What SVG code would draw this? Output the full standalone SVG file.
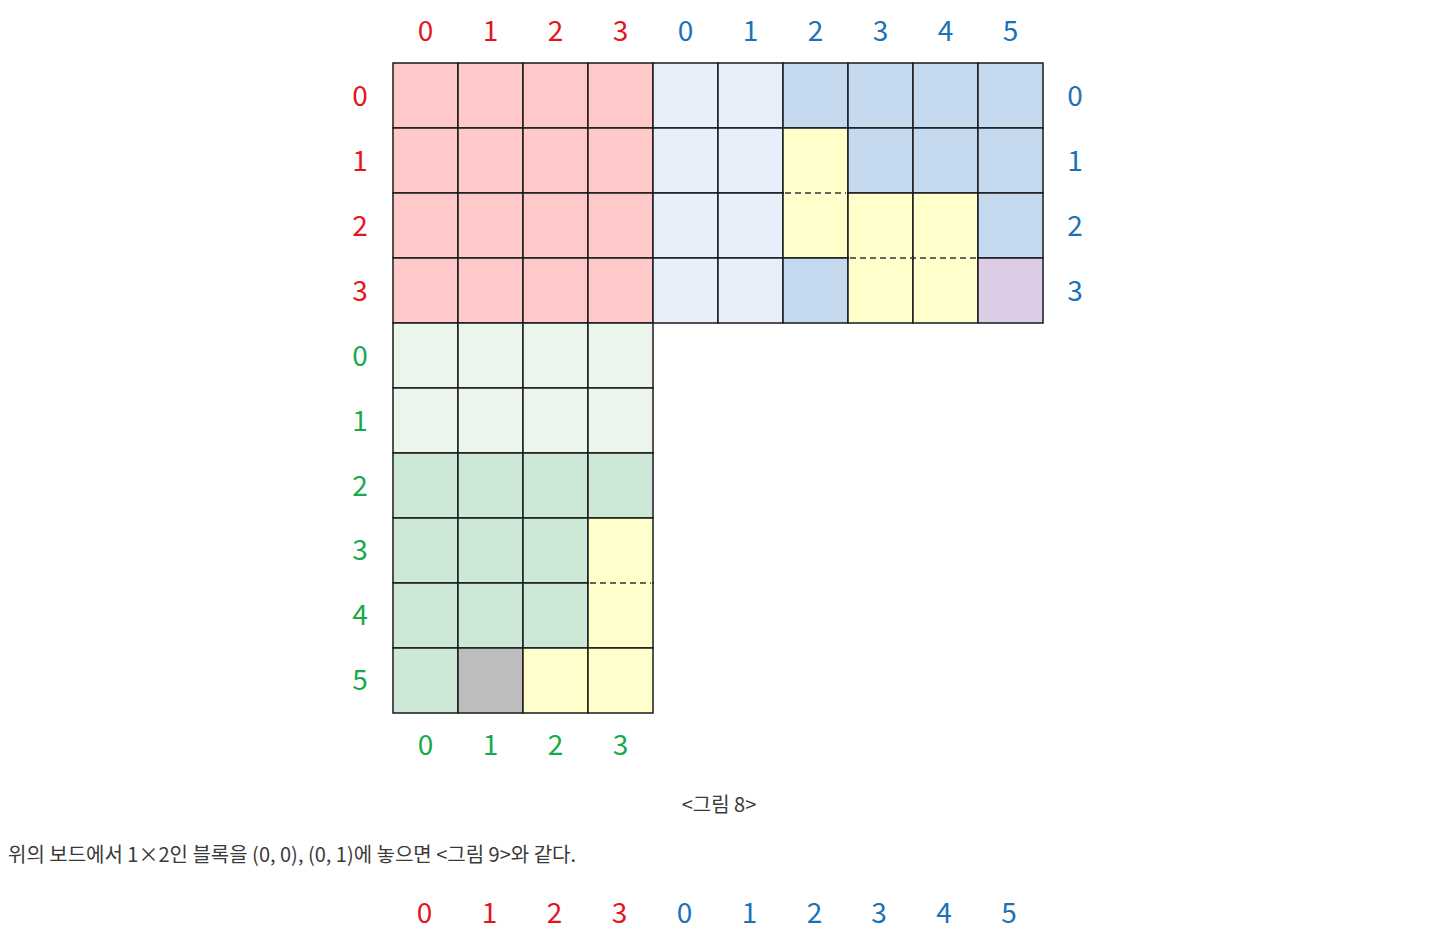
<svg xmlns="http://www.w3.org/2000/svg" width="1440" height="931" viewBox="0 0 1440 931">
<style>
.n{font-family:"Noto Sans CJK KR","Noto Sans",sans-serif;font-size:28px;text-anchor:middle}
.r{fill:#e3161c}.b{fill:#1b72b8}.g{fill:#17a94c}
.c{stroke:#1a1a1a;stroke-width:1.5}
.pk{fill:#ffc9c9}.lb{fill:#e7f0fa}.bl{fill:#c5daee}.ye{fill:#ffffcc}.pu{fill:#dccce6}.lg{fill:#ebf5ec}.gr{fill:#cde8d6}.gy{fill:#bdbdbd}
.d{stroke:#333;stroke-width:1.5;stroke-dasharray:6 4;fill:none}
.t{font-family:"Noto Sans CJK KR","Noto Sans",sans-serif;font-size:20px;fill:#3a3a3a}
</style>
<rect width="1440" height="931" fill="#fff"/>
<g id="cells">
<g id="top-block">
<rect class="c pk" x="393" y="63" width="65" height="65"/><rect class="c pk" x="458" y="63" width="65" height="65"/><rect class="c pk" x="523" y="63" width="65" height="65"/><rect class="c pk" x="588" y="63" width="65" height="65"/>
<rect class="c lb" x="653" y="63" width="65" height="65"/><rect class="c lb" x="718" y="63" width="65" height="65"/>
<rect class="c bl" x="783" y="63" width="65" height="65"/><rect class="c bl" x="848" y="63" width="65" height="65"/><rect class="c bl" x="913" y="63" width="65" height="65"/><rect class="c bl" x="978" y="63" width="65" height="65"/>
<rect class="c pk" x="393" y="128" width="65" height="65"/><rect class="c pk" x="458" y="128" width="65" height="65"/><rect class="c pk" x="523" y="128" width="65" height="65"/><rect class="c pk" x="588" y="128" width="65" height="65"/>
<rect class="c lb" x="653" y="128" width="65" height="65"/><rect class="c lb" x="718" y="128" width="65" height="65"/>
<rect class="c ye" x="783" y="128" width="65" height="65"/><rect class="c bl" x="848" y="128" width="65" height="65"/><rect class="c bl" x="913" y="128" width="65" height="65"/><rect class="c bl" x="978" y="128" width="65" height="65"/>
<rect class="c pk" x="393" y="193" width="65" height="65"/><rect class="c pk" x="458" y="193" width="65" height="65"/><rect class="c pk" x="523" y="193" width="65" height="65"/><rect class="c pk" x="588" y="193" width="65" height="65"/>
<rect class="c lb" x="653" y="193" width="65" height="65"/><rect class="c lb" x="718" y="193" width="65" height="65"/>
<rect class="c ye" x="783" y="193" width="65" height="65"/><rect class="c ye" x="848" y="193" width="65" height="65"/><rect class="c ye" x="913" y="193" width="65" height="65"/><rect class="c bl" x="978" y="193" width="65" height="65"/>
<rect class="c pk" x="393" y="258" width="65" height="65"/><rect class="c pk" x="458" y="258" width="65" height="65"/><rect class="c pk" x="523" y="258" width="65" height="65"/><rect class="c pk" x="588" y="258" width="65" height="65"/>
<rect class="c lb" x="653" y="258" width="65" height="65"/><rect class="c lb" x="718" y="258" width="65" height="65"/>
<rect class="c bl" x="783" y="258" width="65" height="65"/><rect class="c ye" x="848" y="258" width="65" height="65"/><rect class="c ye" x="913" y="258" width="65" height="65"/><rect class="c pu" x="978" y="258" width="65" height="65"/>
</g>
<g id="left-block">
<rect class="c lg" x="393" y="323" width="65" height="65"/><rect class="c lg" x="458" y="323" width="65" height="65"/><rect class="c lg" x="523" y="323" width="65" height="65"/><rect class="c lg" x="588" y="323" width="65" height="65"/>
<rect class="c lg" x="393" y="388" width="65" height="65"/><rect class="c lg" x="458" y="388" width="65" height="65"/><rect class="c lg" x="523" y="388" width="65" height="65"/><rect class="c lg" x="588" y="388" width="65" height="65"/>
<rect class="c gr" x="393" y="453" width="65" height="65"/><rect class="c gr" x="458" y="453" width="65" height="65"/><rect class="c gr" x="523" y="453" width="65" height="65"/><rect class="c gr" x="588" y="453" width="65" height="65"/>
<rect class="c gr" x="393" y="518" width="65" height="65"/><rect class="c gr" x="458" y="518" width="65" height="65"/><rect class="c gr" x="523" y="518" width="65" height="65"/><rect class="c ye" x="588" y="518" width="65" height="65"/>
<rect class="c gr" x="393" y="583" width="65" height="65"/><rect class="c gr" x="458" y="583" width="65" height="65"/><rect class="c gr" x="523" y="583" width="65" height="65"/><rect class="c ye" x="588" y="583" width="65" height="65"/>
<rect class="c gr" x="393" y="648" width="65" height="65"/><rect class="c gy" x="458" y="648" width="65" height="65"/><rect class="c ye" x="523" y="648" width="65" height="65"/><rect class="c ye" x="588" y="648" width="65" height="65"/>
</g>
</g>
<g id="connectors">
<rect class="ye" x="784" y="191" width="63" height="4"/>
<rect class="ye" x="849" y="256" width="63" height="4"/>
<rect class="ye" x="914" y="256" width="63" height="4"/>
<rect class="ye" x="589" y="581" width="63" height="4"/>
<line class="c" x1="913" y1="256" x2="913" y2="260"/>
<line class="d" x1="785" y1="193" x2="846" y2="193"/>
<line class="d" x1="850" y1="258" x2="976" y2="258"/>
<line class="d" x1="590" y1="583" x2="651" y2="583"/>
</g>
<g id="labels">
<text class="n r" x="425.5" y="41">0</text><text class="n r" x="490.5" y="41">1</text><text class="n r" x="555.5" y="41">2</text><text class="n r" x="620.5" y="41">3</text>
<text class="n b" x="685.5" y="41">0</text><text class="n b" x="750.5" y="41">1</text><text class="n b" x="815.5" y="41">2</text><text class="n b" x="880.5" y="41">3</text><text class="n b" x="945.5" y="41">4</text><text class="n b" x="1010.5" y="41">5</text>
<text class="n r" x="360" y="106">0</text><text class="n r" x="360" y="171">1</text><text class="n r" x="360" y="236">2</text><text class="n r" x="360" y="301">3</text>
<text class="n b" x="1075" y="106">0</text><text class="n b" x="1075" y="171">1</text><text class="n b" x="1075" y="236">2</text><text class="n b" x="1075" y="301">3</text>
<text class="n g" x="360" y="366">0</text><text class="n g" x="360" y="431">1</text><text class="n g" x="360" y="496">2</text><text class="n g" x="360" y="560">3</text><text class="n g" x="360" y="625">4</text><text class="n g" x="360" y="690">5</text>
<text class="n g" x="425.5" y="755">0</text><text class="n g" x="490.5" y="755">1</text><text class="n g" x="555.5" y="755">2</text><text class="n g" x="620.5" y="755">3</text>
<text class="n r" x="424.5" y="923">0</text><text class="n r" x="489.5" y="923">1</text><text class="n r" x="554.5" y="923">2</text><text class="n r" x="619.5" y="923">3</text>
<text class="n b" x="684.5" y="923">0</text><text class="n b" x="749.5" y="923">1</text><text class="n b" x="814.5" y="923">2</text><text class="n b" x="879" y="923">3</text><text class="n b" x="944" y="923">4</text><text class="n b" x="1009" y="923">5</text>
</g>
<text class="t" x="719" y="812" text-anchor="middle">&lt;그림 8&gt;</text>
<text class="t" x="8" y="862">위의 보드에서 1×2인 블록을 (0, 0), (0, 1)에 놓으면 &lt;그림 9&gt;와 같다.</text>
</svg>
